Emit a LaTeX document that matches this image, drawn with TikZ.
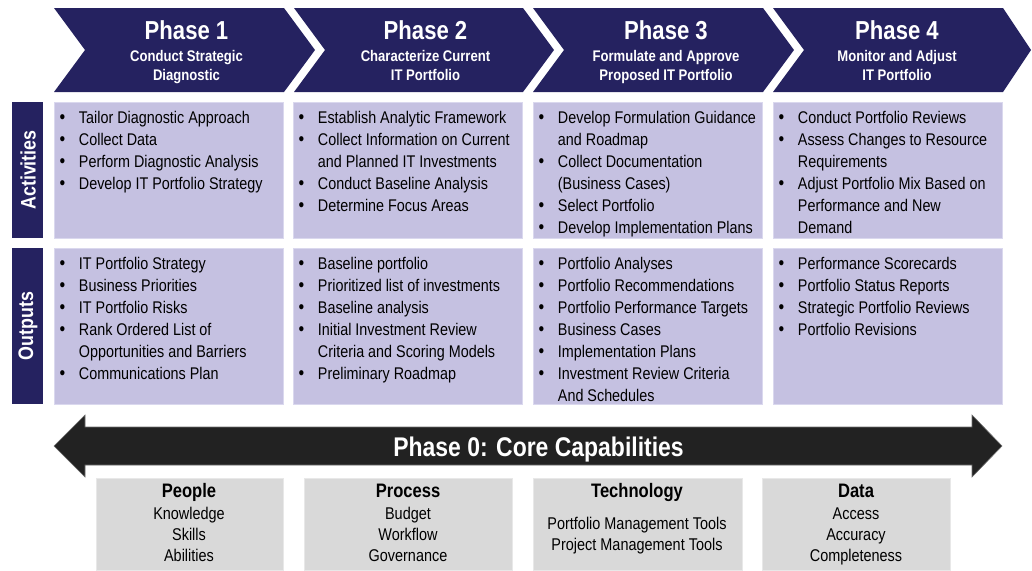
\documentclass[tikz,border=0pt]{standalone}
\usepackage{fontspec}
\setmainfont{Liberation Sans}[FakeStretch=0.85]
\definecolor{navy}{RGB}{37,34,96}
\definecolor{lav}{RGB}{197,193,225}
\definecolor{lavedge}{RGB}{218,216,238}
\definecolor{lgray}{RGB}{217,217,217}
\definecolor{grayedge}{RGB}{232,232,232}
\definecolor{darkbar}{RGB}{34,34,34}
\newcommand{\bul}{{\fontsize{19}{22}\selectfont\textbullet}}
\begin{document}
\begin{tikzpicture}[x=1pt,y=-1pt,
  chev/.style={fill=navy},
  ptitle/.style={text=white,inner sep=0pt,anchor=base,font=\fontsize{26}{30}\selectfont\bfseries},
  psub/.style={text=white,inner sep=0pt,anchor=north,font=\fontsize{15.4}{19}\selectfont\bfseries},
  sidebox/.style={fill=navy},
  sidelabel/.style={text=white,rotate=90,inner sep=0pt,font=\fontsize{21}{24}\selectfont\bfseries},
  cell/.style={fill=lav,draw=lavedge,line width=0.8pt},
  celltext/.style={inner sep=0pt,anchor=north west,text=black,font=\fontsize{16.9}{22}\selectfont},
  capbox/.style={fill=lgray,draw=grayedge,line width=0.8pt},
  caphead/.style={inner sep=0pt,anchor=base,text=black,font=\fontsize{19.5}{22}\selectfont\bfseries},
  capitems/.style={inner sep=0pt,anchor=north,text=black,font=\fontsize{17}{21}\selectfont},
  bigarrow/.style={fill=darkbar,draw={rgb,255:red,110;green,110;blue,110},line width=0.6pt}
]
\useasboundingbox (0,0) rectangle (1032,570);

% Chevrons
\fill[chev] (54,8) -- (284,8) -- (315,50) -- (284,92) -- (54,92) -- (85,50) -- cycle;
\fill[chev] (294,8) -- (523,8) -- (554,50) -- (523,92) -- (294,92) -- (325,50) -- cycle;
\fill[chev] (533,8) -- (763,8) -- (794,50) -- (763,92) -- (533,92) -- (564,50) -- cycle;
\fill[chev] (773,8) -- (1003,8) -- (1031,50) -- (1003,92) -- (773,92) -- (804,50) -- cycle;

\node[ptitle] (t1) at (186.5,39) {Phase 1};
\node[ptitle] (t2) at (425.5,39) {Phase 2};
\node[ptitle] (t3) at (666,39) {Phase 3};
\node[ptitle] (t4) at (897,39) {Phase 4};
\node[psub] (s1) at (186.5,47.7) {\begin{tabular}{@{}c@{}}Conduct Strategic\\Diagnostic\end{tabular}};
\node[psub] (s2) at (425.5,47.7) {\begin{tabular}{@{}c@{}}Characterize Current\\IT Portfolio\end{tabular}};
\node[psub] (s3) at (666,47.7) {\begin{tabular}{@{}c@{}}Formulate and Approve\\Proposed IT Portfolio\end{tabular}};
\node[psub] (s4) at (897,47.7) {\begin{tabular}{@{}c@{}}Monitor and Adjust\\IT Portfolio\end{tabular}};

% Side labels
\fill[sidebox] (12,102) rectangle (43,238);
\fill[sidebox] (12,248) rectangle (43,404);
\node[sidelabel] (lact) at (28,170) {Activities};
\node[sidelabel] (lout) at (28,326) {Outputs};

% Cells
\foreach \xl in {54,293,533,773}{
  \path[cell] (\xl,102) rectangle ++(229,136);
  \path[cell] (\xl,248) rectangle ++(229,156);
}

% Activities text
\node[celltext] (a1) at (59.3,107.6) {\begin{tabular}{@{}c@{\hspace{13.8pt}}l@{}}
\bul & Tailor Diagnostic Approach\\
\bul & Collect Data\\
\bul & Perform Diagnostic Analysis\\
\bul & Develop IT Portfolio Strategy
\end{tabular}};
\node[celltext] (a2) at (298.3,107.6) {\begin{tabular}{@{}c@{\hspace{13.8pt}}l@{}}
\bul & Establish Analytic Framework\\
\bul & Collect Information on Current\\
 & and Planned IT Investments\\
\bul & Conduct Baseline Analysis\\
\bul & Determine Focus Areas
\end{tabular}};
\node[celltext] (a3) at (538.3,107.6) {\begin{tabular}{@{}c@{\hspace{13.8pt}}l@{}}
\bul & Develop Formulation Guidance\\
 & and Roadmap\\
\bul & Collect Documentation\\
 & (Business Cases)\\
\bul & Select Portfolio\\
\bul & Develop Implementation Plans
\end{tabular}};
\node[celltext] (a4) at (778.3,107.6) {\begin{tabular}{@{}c@{\hspace{13.8pt}}l@{}}
\bul & Conduct Portfolio Reviews\\
\bul & Assess Changes to Resource\\
 & Requirements\\
\bul & Adjust Portfolio Mix Based on\\
 & Performance and New\\
 & Demand
\end{tabular}};

% Outputs text
\node[celltext] (o1) at (59.3,253.6) {\begin{tabular}{@{}c@{\hspace{13.8pt}}l@{}}
\bul & IT Portfolio Strategy\\
\bul & Business Priorities\\
\bul & IT Portfolio Risks\\
\bul & Rank Ordered List of\\
 & Opportunities and Barriers\\
\bul & Communications Plan
\end{tabular}};
\node[celltext] (o2) at (298.3,253.6) {\begin{tabular}{@{}c@{\hspace{13.8pt}}l@{}}
\bul & Baseline portfolio\\
\bul & Prioritized list of investments\\
\bul & Baseline analysis\\
\bul & Initial Investment Review\\
 & Criteria and Scoring Models\\
\bul & Preliminary Roadmap
\end{tabular}};
\node[celltext] (o3) at (538.3,253.6) {\begin{tabular}{@{}c@{\hspace{13.8pt}}l@{}}
\bul & Portfolio Analyses\\
\bul & Portfolio Recommendations\\
\bul & Portfolio Performance Targets\\
\bul & Business Cases\\
\bul & Implementation Plans\\
\bul & Investment Review Criteria\\
 & And Schedules
\end{tabular}};
\node[celltext] (o4) at (778.3,253.6) {\begin{tabular}{@{}c@{\hspace{13.8pt}}l@{}}
\bul & Performance Scorecards\\
\bul & Portfolio Status Reports\\
\bul & Strategic Portfolio Reviews\\
\bul & Portfolio Revisions
\end{tabular}};

% Core capabilities arrow
\path[bigarrow] (54,446) -- (85,415) -- (85,427) -- (972,427) -- (972,415) -- (1002,446)
  -- (972,477) -- (972,465) -- (85,465) -- (85,477) -- cycle;
\node[text=white,inner sep=0pt,anchor=base,font=\fontsize{27}{32}\selectfont\bfseries] (p0) at (538.5,456.5) {Phase 0: Core Capabilities};

% Capability boxes
\path[capbox] (96,478) rectangle (283,570);
\path[capbox] (304,478) rectangle (512,570);
\path[capbox] (533,478) rectangle (742,570);
\path[capbox] (762,478) rectangle (950,570);

\node[caphead] (hpeople) at (189,497) {People};
\node[caphead] (hprocess) at (408,497) {Process};
\node[caphead] (htech) at (637,497) {Technology};
\node[caphead] (hdata) at (856,497) {Data};

\node[capitems] (ipeople) at (189,504.3) {\begin{tabular}{@{}c@{}}Knowledge\\Skills\\Abilities\end{tabular}};
\node[capitems] (iprocess) at (408,504.3) {\begin{tabular}{@{}c@{}}Budget\\Workflow\\Governance\end{tabular}};
\node[capitems] (itech) at (637,514.3) {\begin{tabular}{@{}c@{}}Portfolio Management Tools\\Project Management Tools\end{tabular}};
\node[capitems] (idata) at (856,504.3) {\begin{tabular}{@{}c@{}}Access\\Accuracy\\Completeness\end{tabular}};
\end{tikzpicture}
\end{document}
